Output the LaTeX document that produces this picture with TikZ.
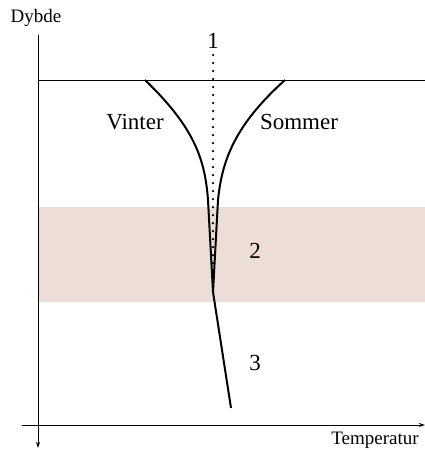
\documentclass[tikz,border=0pt]{standalone}
\usepackage{fontspec}
\setmainfont{Liberation Serif}
\usetikzlibrary{arrows.meta}
\definecolor{band}{RGB}{236,221,214}
\begin{document}
\begin{tikzpicture}[x=1pt,y=-1pt,
  curve/.style={line width=2pt},
  axis/.style={line width=1pt,-{Stealth[length=6pt,width=4pt]}},
  lbl/.style={font=\fontsize{23}{26}\selectfont,inner sep=0pt},
  axlbl/.style={font=\fontsize{19}{21}\selectfont,inner sep=0pt}]
\useasboundingbox (0,0) rectangle (425,450);
\fill[band] (38,207) rectangle (425,302);
\draw[line width=0.6pt] (38,80) -- (425,80);
\coordinate (top1) at (213,55);
\coordinate (m) at (213,292);
\coordinate (w) at (145,80);
\coordinate (s) at (285,80);
\coordinate (bot) at (231,408);
\draw[line width=2.5pt,line cap=round,dash pattern=on 0pt off 8pt] (top1) -- (m);
\draw[curve] (w) .. controls (195,128) and (205,160) .. (208,200) -- (m);
\draw[curve] (s) .. controls (235,125) and (222,160) .. (218,200) -- (m);
\draw[curve] (m) -- (bot);
\coordinate (ya) at (38,35);
\coordinate (yb) at (38,448);
\coordinate (xa) at (22,425);
\coordinate (xb) at (425,425);
\draw[axis] (ya) -- (yb);
\draw[axis] (xa) -- (xb);
\node[axlbl] (dybde) at (36,18) {Dybde};
\node[axlbl] (temp) at (375,440) {Temperatur};
\node[lbl] (n1) at (213,41) {1};
\node[lbl] (vinter) at (135,122) {Vinter};
\node[lbl] (sommer) at (299,122) {Sommer};
\node[lbl] (n2) at (255,251) {2};
\node[lbl] (n3) at (255,363) {3};
\end{tikzpicture}
\end{document}
